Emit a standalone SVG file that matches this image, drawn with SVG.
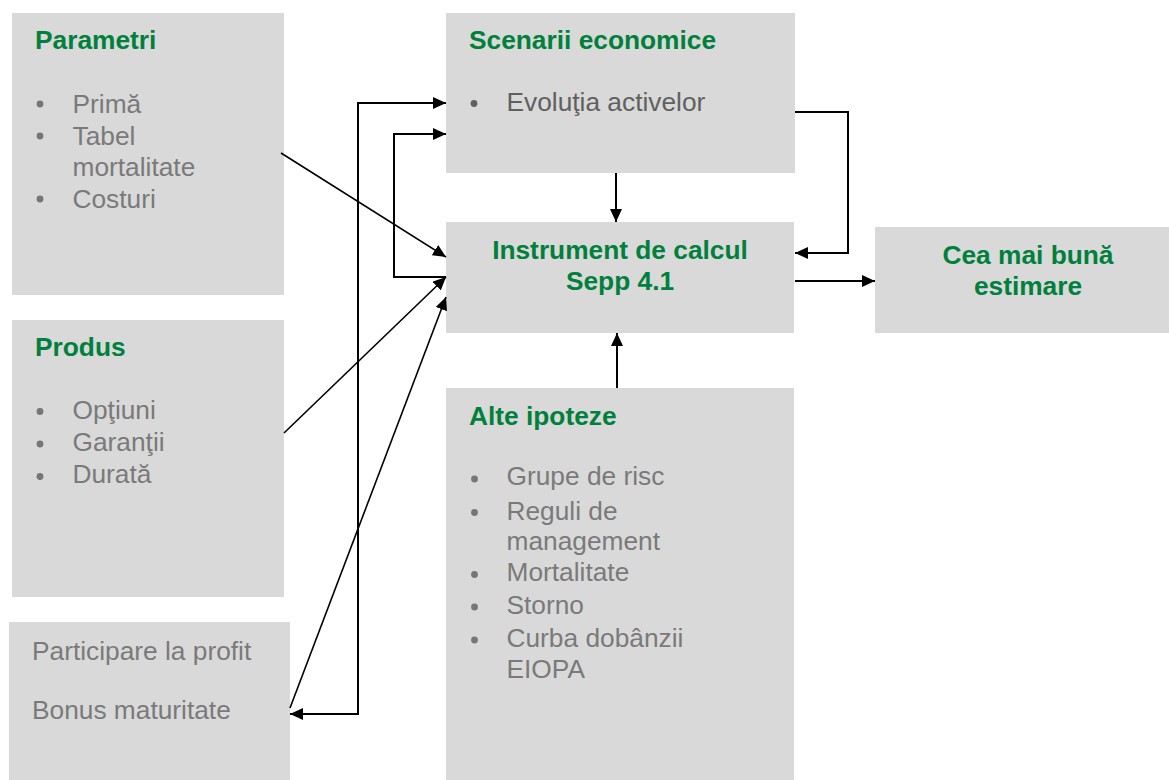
<svg xmlns="http://www.w3.org/2000/svg" width="1169" height="780" viewBox="0 0 1169 780">
<style>
.box{fill:#d9d9d9}
.title{font-family:"Liberation Sans",Arial,sans-serif;font-size:26.3px;font-weight:bold;fill:#00803c}
.item{font-family:"Liberation Sans",Arial,sans-serif;font-size:26.3px;fill:#7a7a7a}
.dark{fill:#606060}
.bul{fill:#767676}
.c{fill:none;stroke:#000;stroke-width:2}
.d{fill:none;stroke:#000;stroke-width:1.6}
</style>
<defs>
<marker id="ah" markerUnits="userSpaceOnUse" markerWidth="14" markerHeight="12" refX="13" refY="6" orient="auto">
<path d="M0,0 L13,6 L0,12 z" fill="#000"/>
</marker>
<marker id="ahs" markerUnits="userSpaceOnUse" markerWidth="14" markerHeight="12" refX="13" refY="6" orient="auto-start-reverse">
<path d="M0,0 L13,6 L0,12 z" fill="#000"/>
</marker>
</defs>
<rect width="1169" height="780" fill="#fff"/>

<g id="parametri">
<rect class="box" x="12" y="13" width="272" height="282"/>
<text class="title" x="35" y="49">Parametri</text>
<circle class="bul" cx="40" cy="104" r="3.4"/>
<circle class="bul" cx="40" cy="136" r="3.4"/>
<circle class="bul" cx="40" cy="199" r="3.4"/>
<text class="item" x="72.5" y="112.5">Primă</text>
<text class="item" x="72.5" y="145">Tabel</text>
<text class="item" x="72.5" y="176">mortalitate</text>
<text class="item" x="72.5" y="208">Costuri</text>
</g>

<g id="produs">
<rect class="box" x="12" y="320" width="272" height="277"/>
<text class="title" x="35" y="356">Produs</text>
<circle class="bul" cx="40" cy="411.5" r="3.4"/>
<circle class="bul" cx="40" cy="444" r="3.4"/>
<circle class="bul" cx="40" cy="476.5" r="3.4"/>
<text class="item" x="72.5" y="418.5">Opţiuni</text>
<text class="item" x="72.5" y="450.5">Garanţii</text>
<text class="item" x="72.5" y="482.5">Durată</text>
</g>

<g id="participare">
<rect class="box" x="9" y="622" width="281" height="158"/>
<text class="item" x="32" y="660">Participare la profit</text>
<text class="item" x="32" y="718.5">Bonus maturitate</text>
</g>

<g id="scenarii">
<rect class="box" x="446" y="13" width="349" height="160"/>
<text class="title" x="469" y="49">Scenarii economice</text>
<circle cx="474" cy="103.5" r="3.4" fill="#606060"/>
<text class="item dark" x="506.5" y="111">Evoluţia activelor</text>
</g>

<g id="instrument">
<rect class="box" x="446" y="222" width="348" height="111"/>
<text class="title" x="620" y="258.5" text-anchor="middle">Instrument de calcul</text>
<text class="title" x="620" y="289.5" text-anchor="middle">Sepp 4.1</text>
</g>

<g id="estimare">
<rect class="box" x="875" y="227" width="294" height="106"/>
<text class="title" x="1028" y="263.5" text-anchor="middle">Cea mai bună</text>
<text class="title" x="1028" y="294.5" text-anchor="middle">estimare</text>
</g>

<g id="alte">
<rect class="box" x="446" y="388" width="348" height="392"/>
<text class="title" x="469" y="425">Alte ipoteze</text>
<circle class="bul" cx="474.5" cy="479" r="3.4"/>
<circle class="bul" cx="474.5" cy="512.5" r="3.4"/>
<circle class="bul" cx="474.5" cy="574.5" r="3.4"/>
<circle class="bul" cx="474.5" cy="607" r="3.4"/>
<circle class="bul" cx="474.5" cy="640" r="3.4"/>
<text class="item" x="506.5" y="485">Grupe de risc</text>
<text class="item" x="506.5" y="520">Reguli de</text>
<text class="item" x="506.5" y="549.5">management</text>
<text class="item" x="506.5" y="581">Mortalitate</text>
<text class="item" x="506.5" y="613.5">Storno</text>
<text class="item" x="506.5" y="647">Curba dobânzii</text>
<text class="item" x="506.5" y="677.5">EIOPA</text>
</g>

<g id="connectors">
<path class="d" d="M281,153 L446,257" marker-end="url(#ah)"/>
<path class="d" d="M284,433 L446,277" marker-end="url(#ah)"/>
<path class="d" d="M290,708 L446,297" marker-end="url(#ah)"/>
<path class="c" d="M290,714 L358,714 L358,103 L446,103" marker-start="url(#ahs)" marker-end="url(#ah)"/>
<path class="c" d="M446,277 L394,277 L394,134 L446,134" marker-end="url(#ah)"/>
<path class="c" d="M616,173 L616,222" marker-end="url(#ah)"/>
<path class="c" d="M795,112 L848,112 L848,253 L795,253" marker-end="url(#ah)"/>
<path class="c" d="M795,281 L875,281" marker-end="url(#ah)"/>
<path class="c" d="M617,388 L617,333" marker-end="url(#ah)"/>
</g>
</svg>
